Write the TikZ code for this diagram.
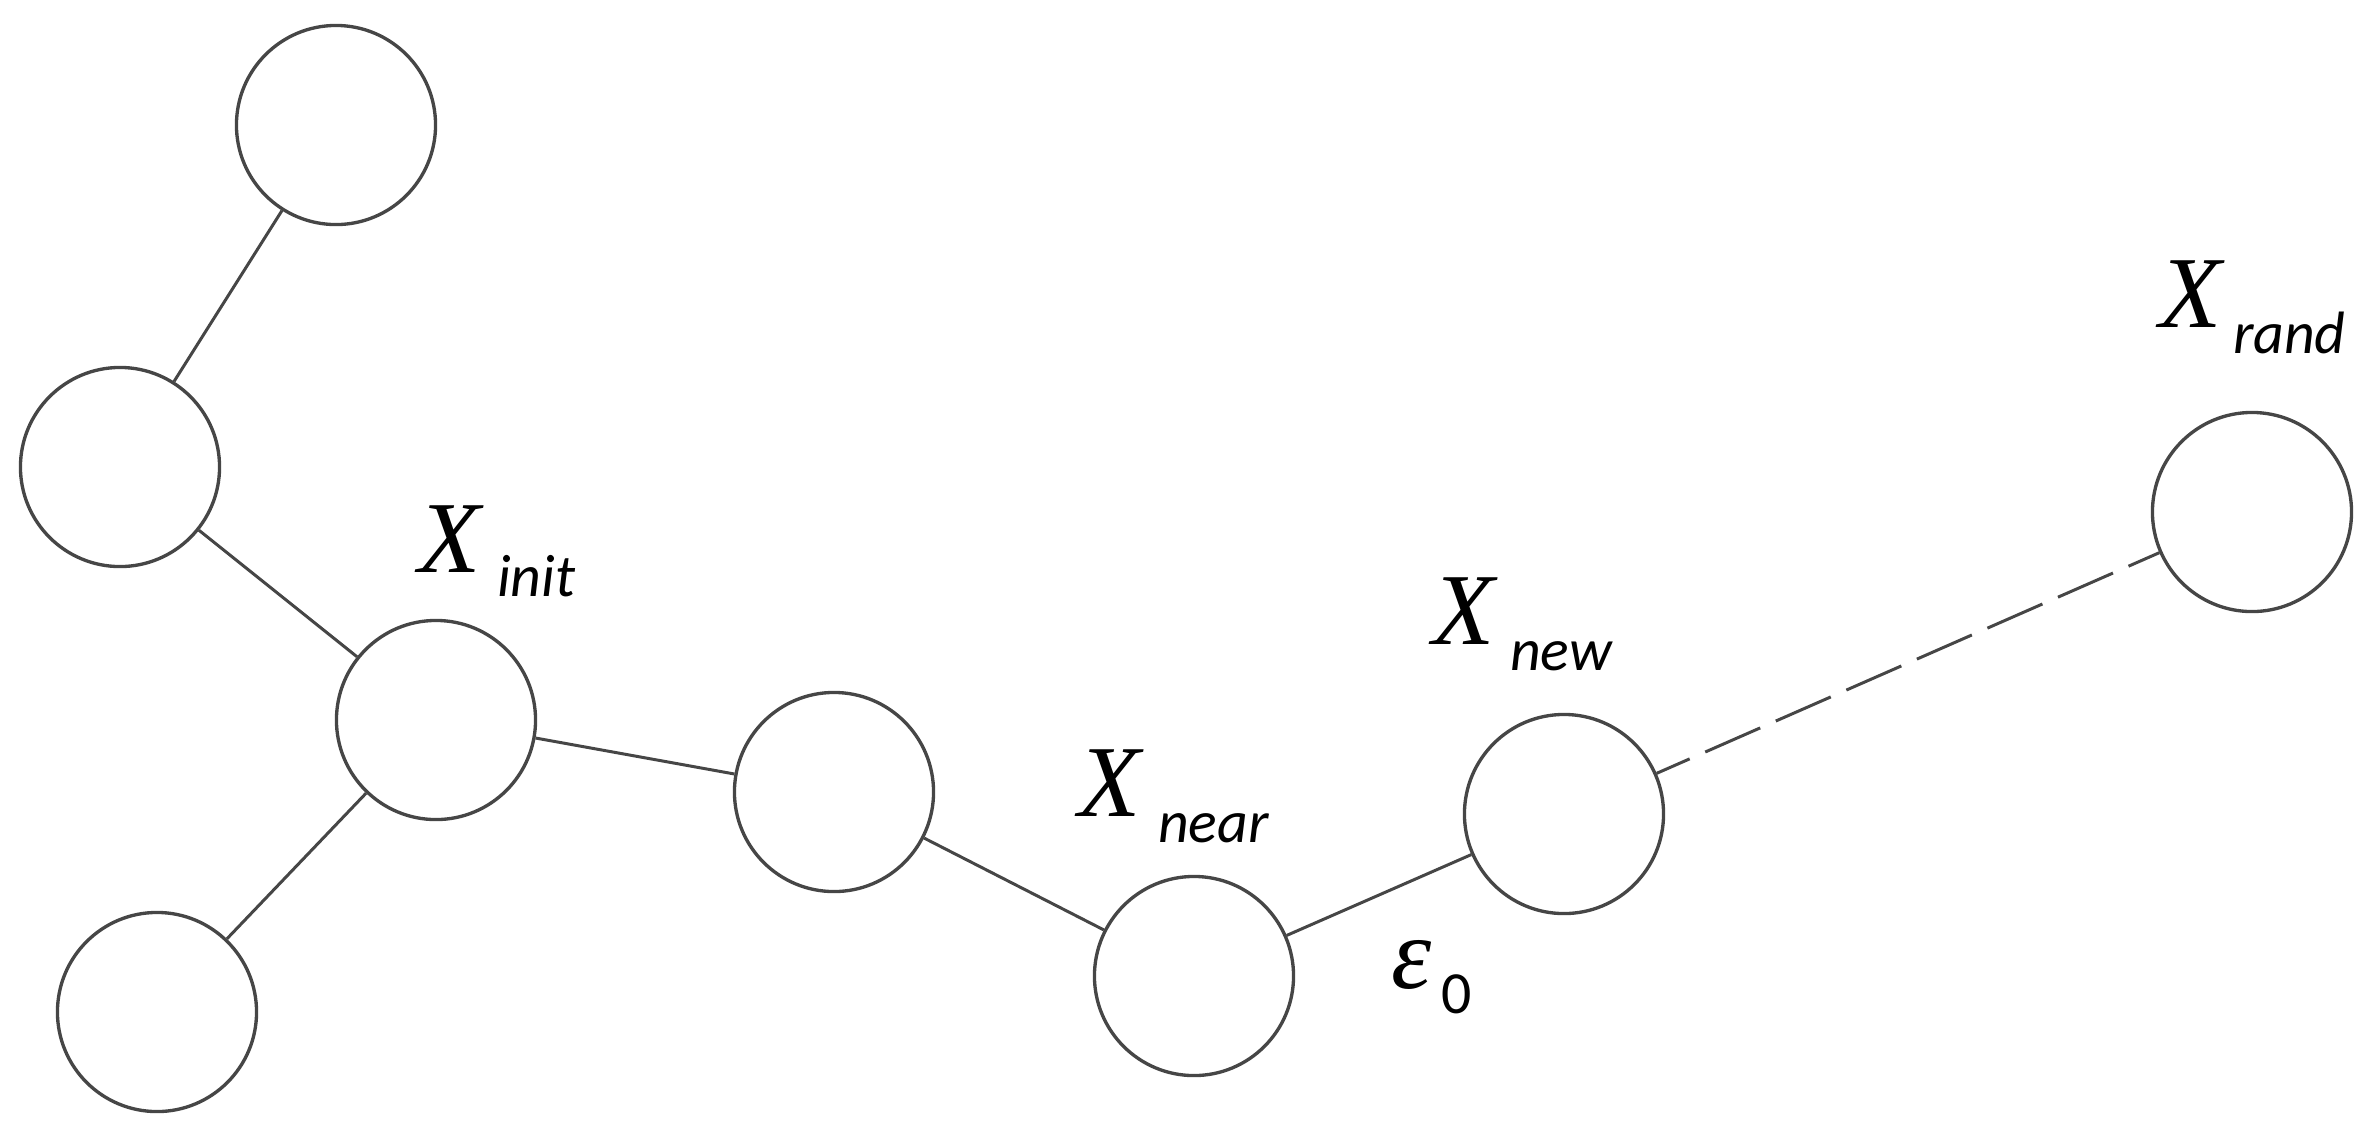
\documentclass[tikz,border=0pt]{standalone}
\usepackage{fontspec}
\newfontfamily\labXfam{Liberation Serif}
\newfontfamily\labSfam{Carlito}
\newcommand{\bigX}{\labXfam\itshape\fontsize{29}{30}\selectfont}
\newcommand{\subS}{\labSfam\itshape\fontsize{17}{18}\selectfont}
\newcommand{\subU}{\labSfam\fontsize{17}{18}\selectfont}
\definecolor{linegray}{RGB}{70,70,70}
\begin{document}
\begin{tikzpicture}[x=0.01cm,y=-0.01cm,
  vtx/.style={circle,draw=linegray,line width=0.95pt,minimum size=1.99cm,inner sep=0pt,fill=white},
  edge/.style={draw=linegray,line width=0.85pt},
  dedge/.style={draw=linegray,line width=0.85pt,dash pattern=on 0.6cm off 0.17cm,dash phase=0.24cm},
  lab/.style={anchor=base west,inner sep=0pt,outer sep=0pt,text=black}]
\useasboundingbox (0,0) rectangle (2365,1129);
\node[vtx] (A) at (336,125) {};
\node[vtx] (B) at (120,467) {};
\node[vtx] (C) at (436,720) {};
\node[vtx] (D) at (157,1012) {};
\node[vtx] (E) at (834,792) {};
\node[vtx] (F) at (1194,976) {};
\node[vtx] (G) at (1564,814) {};
\node[vtx] (H) at (2252,512) {};
\draw[edge] (A) -- (B);
\draw[edge] (B) -- (C);
\draw[edge] (C) -- (D);
\draw[edge] (C) -- (E);
\draw[edge] (E) -- (F);
\draw[edge] (F) -- (G);
\draw[dedge] (G) -- (H);
% labels
\node[lab] (Xi) at (418,572) {\bigX X};
\node[lab] (Xis) at (497,596) {\subS init};
\node[lab] (Xn) at (1078,816) {\bigX X};
\node[lab] (Xns) at (1158,842) {\subS near};
\node[lab] (Xw) at (1432,644) {\bigX X};
\node[lab] (Xws) at (1510,670) {\subS new};
\node[lab] (Xr) at (2159,327) {\bigX X};
\node[lab] (Xrs) at (2233,353) {\subS rand};
\node[lab] (eps) at (1391,988) {\bigX ε};
\node[lab] (eps0) at (1441,1013) {\subU 0};
\end{tikzpicture}
\end{document}
